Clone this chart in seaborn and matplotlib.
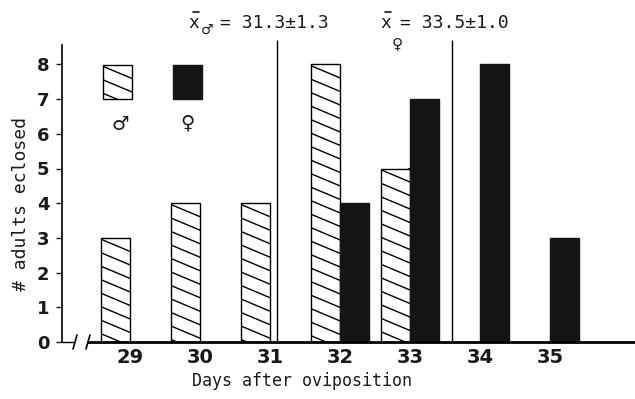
import matplotlib
matplotlib.use("Agg")
import matplotlib.pyplot as plt
import seaborn as sns
import pandas as pd
import numpy as np
from matplotlib.patches import Rectangle
from matplotlib.lines import Line2D

# ---- data ----
days = [29, 30, 31, 32, 33, 34, 35]
male_counts = [3, 4, 4, 8, 5, 0, 0]
female_counts = [0, 0, 0, 4, 7, 8, 3]
sex_labels = ["male", "female"]
mean_line_days = [31.1, 33.6]
title_male = "= 31.3\u00b11.3"
title_female = "= 33.5\u00b11.0"

df = pd.DataFrame({
    "day": [str(d) for d in days] * 2,
    "count": male_counts + female_counts,
    "sex": [sex_labels[0]] * len(days) + [sex_labels[1]] * len(days),
})

sns.set_style("white")
INK = "#1a1a1a"
FEM = "#141414"
MONO = ["DejaVu Sans Mono", "DejaVu Sans"]

W, H = 635, 399
fig = plt.figure(figsize=(W / 100, H / 100), dpi=100)
fig.patch.set_facecolor("white")

def fx(px):
    return px / W

def fy(py):
    return 1 - py / H

L, R, T, B = 62, 635, 45, 342
PX_DAY = 70.0
PX_UNIT = 34.7
ax = fig.add_axes([fx(L), fy(B), (R - L) / W, (B - T) / H])

sns.barplot(data=df, x="day", y="count", hue="sex", order=[str(d) for d in days],
            hue_order=sex_labels, palette={"male": "white", "female": FEM},
            width=0.83, saturation=1, edgecolor="black", linewidth=1.0,
            legend=False, ax=ax)

x0_px = 130.0
ax.set_xlim(-(x0_px - L) / PX_DAY, (R - x0_px) / PX_DAY)
ax.set_ylim(0, (B - T) / PX_UNIT)

# custom shallow diagonal hatching, clipped to each male bar
SPACING_PX = 13.5
SLOPE_PX = 0.42
def hatch_patch(patch, x, y, w, h, sx, sy, transform, target):
    # sx, sy: pixels per unit in the given coordinates
    sp = SPACING_PX / sy
    slope = SLOPE_PX * sx / sy
    c = y + h + slope * w
    while c > y - sp:
        ln = Line2D([x, x + w], [c, c - slope * w], color="black", lw=1.0,
                    transform=transform)
        target.add_artist(ln)
        ln.set_clip_path(patch)
        c -= sp

for bar, v in zip(ax.containers[0], male_counts):
    if v == 0:
        bar.set_visible(False)
        continue
    bar.set_edgecolor("black")
    hatch_patch(bar, bar.get_x(), bar.get_y(), bar.get_width(), bar.get_height(),
                PX_DAY, PX_UNIT, ax.transData, ax)
for bar, v in zip(ax.containers[1], female_counts):
    bar.set_edgecolor(FEM)
    if v == 0:
        bar.set_visible(False)

ax.set_yticks(range(9))
ax.set_yticklabels([str(i) for i in range(9)])
ax.tick_params(axis="y", direction="out", length=4, width=1, pad=5,
               labelsize=13, colors=INK, left=True)
ax.tick_params(axis="x", length=0, pad=4, labelsize=14, colors=INK)
for lab in ax.get_xticklabels() + ax.get_yticklabels():
    lab.set_fontweight("bold")

ax.set_xlabel("")
ax.set_ylabel("")
for s in ["top", "right", "bottom"]:
    ax.spines[s].set_visible(False)
ax.spines["left"].set_color("black")
ax.spines["left"].set_linewidth(1.2)

# broken baseline
ax.plot([0, (74 - L) / (R - L)], [0, 0], transform=ax.transAxes, color="black",
        lw=1.0, clip_on=False)
ax.plot([(88 - L) / (R - L), 1], [0, 0], transform=ax.transAxes, color="black",
        lw=2.0, clip_on=False)
for bx in (75, 88):
    fig.add_artist(Line2D([fx(bx - 2), fx(bx + 2)], [fy(349), fy(335)],
                          color="black", lw=1.2))

# mean lines
ax.vlines([d - days[0] for d in mean_line_days], 0, (B - 40) / PX_UNIT,
          colors="black", lw=1.0, clip_on=False)

# legend keys
key_m = Rectangle((fx(103), fy(99)), (132 - 103) / W, (99 - 65) / H,
                  facecolor="white", edgecolor="black", lw=1.0,
                  transform=fig.transFigure)
fig.add_artist(key_m)
hatch_patch(key_m, fx(103), fy(99), (132 - 103) / W, (99 - 65) / H,
            W, H, fig.transFigure, fig)
fig.add_artist(Rectangle((fx(173), fy(99)), (202 - 173) / W, (99 - 65) / H,
                         facecolor=FEM, edgecolor=FEM, lw=1.0,
                         transform=fig.transFigure))
fig.text(fx(120), fy(124), "\u2642", ha="center", va="center", fontsize=14,
         color=INK, family=["DejaVu Sans"])
fig.text(fx(187), fy(123), "\u2640", ha="center", va="center", fontsize=14,
         color=INK, family=["DejaVu Sans"])

# title formulas
def xbar(cx, cy):
    fig.text(fx(cx), fy(cy), "x", ha="center", va="center", fontsize=13,
             color=INK, family=MONO)
    fig.add_artist(Line2D([fx(cx - 1), fx(cx + 5)], [fy(cy - 11), fy(cy - 11)],
                          color=INK, lw=1.2))

xbar(194, 23)
fig.text(fx(207), fy(30), "\u2642", ha="center", va="center", fontsize=10,
         color=INK, family=["DejaVu Sans"])
fig.text(fx(220), fy(23), title_male, ha="left", va="center", fontsize=13,
         color=INK, family=MONO)
xbar(386, 23)
fig.text(fx(397), fy(44), "\u2640", ha="center", va="center", fontsize=11,
         color=INK, family=["DejaVu Sans"])
fig.text(fx(400), fy(23), title_female, ha="left", va="center", fontsize=13,
         color=INK, family=MONO)

# axis labels
fig.text(fx(302), fy(381), "Days after oviposition", ha="center", va="center",
         fontsize=12, color=INK, family=MONO)
fig.text(fx(21), fy(204), "# adults eclosed", ha="center", va="center",
         rotation=90, fontsize=13, color=INK, family=MONO)

fig.savefig("out.png", dpi=100, facecolor="white")
